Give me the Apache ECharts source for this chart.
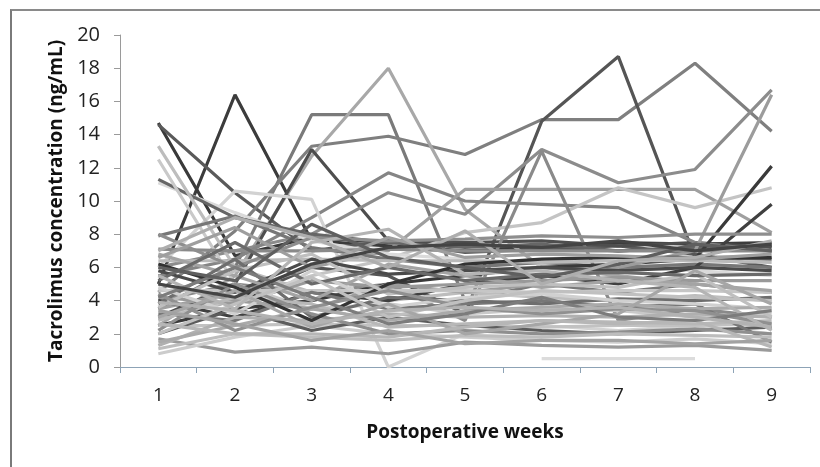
<!DOCTYPE html>
<html>
<head>
<meta charset="utf-8">
<script src="https://cdn.jsdelivr.net/npm/echarts@6/dist/echarts.min.js"></script>
<style>
  html, body { margin: 0; padding: 0; background: #fff; }
  #wrap { position: relative; width: 820px; height: 467px; }
  #frame { position: absolute; left: 10px; top: 9px; right: -4px; bottom: -4px; border-left: 2px solid #7a7a7a; border-top: 2px solid #8a8a8a; }
  #chart { position: absolute; left: 0; top: 0; width: 820px; height: 467px; }
</style>
</head>
<body>
<div id="wrap">
  <div id="frame"></div>
  <div id="chart"></div>
</div>
<script>
// postoperative week labels
var weeks = ['1', '2', '3', '4', '5', '6', '7', '8', '9']

// tacrolimus trough concentration (ng/mL) per patient, week 1..9
var patients = [
  [5.0, 16.4, 7.6, 7.3, 7.0, 7.2, 7.5, 7.4, 7.5],
  [14.7, 6.7, 7.8, 7.5, 7.3, 7.2, 7.0, 7.2, 7.3],
  [14.6, 10.5, 7.0, 7.6, 6.9, 7.1, 7.3, 6.8, 6.0],
  [3.5, 6.0, 15.2, 15.2, 4.0, 5.0, 4.5, 5.0, 4.5],
  [4.5, 8.2, 13.3, 13.9, 12.8, 14.9, 14.9, 18.3, 14.2],
  [3.0, 4.0, 6.0, 5.5, 3.2, 14.8, 18.7, 6.6, 6.5],
  [2.5, 5.5, 12.7, 18.0, 9.5, 6.0, 5.5, 5.0, 4.5],
  [3.0, 5.0, 13.1, 7.6, 7.5, 7.6, 7.3, 7.5, 7.2],
  [6.0, 7.0, 8.0, 10.5, 9.2, 13.1, 11.1, 11.9, 16.7],
  [5.5, 6.5, 9.0, 11.7, 10.0, 9.8, 9.6, 7.5, 7.0],
  [3.5, 4.5, 6.0, 7.0, 10.7, 10.7, 10.7, 10.7, 8.1],
  [3.0, 4.0, 5.5, 6.5, 8.1, 8.7, 10.8, 9.6, 10.8],
  [4.0, 5.0, 4.5, 5.0, 2.8, 13.0, 2.8, 3.5, 3.0],
  [6.0, 10.6, 10.1, 0.0, 2.0, 2.5, 2.2, 2.5, 2.0],
  [11.1, 9.3, 7.6, 6.8, 6.5, 6.2, 6.0, 5.8, 5.5],
  [11.3, 9.0, 8.0, 7.5, 7.2, 7.4, 7.0, 7.2, 7.0],
  [13.3, 6.0, 4.5, 4.0, 4.5, 4.2, 4.0, 4.3, 4.0],
  [12.5, 5.0, 3.5, 3.8, 3.2, 3.5, 3.4, 3.0, 3.2],
  [7.9, 9.1, 7.2, 6.5, 6.0, 6.3, 6.0, 6.2, 6.0],
  [1.7, 0.9, 1.2, 0.8, 1.5, 1.3, 1.2, 1.3, 1.0],
  [0.8, 1.8, 2.5, 2.0, 1.8, 1.6, 1.5, 1.7, 1.4],
  [null, null, null, null, null, 0.5, 0.5, 0.5, null],
  [2.5, 3.5, 4.0, 5.0, 5.5, 6.0, 6.2, 6.5, 12.1],
  [4.0, 3.0, 4.5, 4.0, 5.0, 5.5, 5.0, 6.0, 9.8],
  [5.0, 4.0, 3.5, 5.0, 4.5, 5.0, 6.0, 7.0, 16.4],
  [7.1, 7.0, 7.0, 7.1, 7.0, 7.0, 7.0, 7.0, 7.0],
  [6.4, 6.4, 6.5, 6.4, 6.4, 6.3, 6.4, 6.4, 6.3],
  [4.6, 4.6, 4.6, 4.6, 4.6, 4.5, 4.6, 4.6, 4.5],
  [2.5, 2.5, 2.6, 2.5, 2.5, 2.4, 2.5, 2.5, 2.6],
  [8.0, 6.0, 7.8, 7.6, 7.7, 7.9, 7.8, 8.0, 8.0],
  [2.0, 3.5, 2.2, 3.0, 2.5, 2.2, 2.0, 2.2, 2.4],
  [3.2, 2.8, 4.5, 3.5, 3.8, 4.0, 3.6, 3.8, 1.5],
  [4.2, 3.8, 5.2, 4.8, 5.0, 5.2, 5.4, 5.2, 5.2],
  [5.8, 4.5, 6.5, 5.6, 5.8, 6.0, 5.8, 6.0, 5.8],
  [1.3, 3.0, 2.8, 3.2, 3.0, 3.1, 3.0, 3.2, 3.0],
  [6.8, 5.5, 4.0, 6.2, 5.5, 4.8, 5.2, 5.0, 4.6],
  [3.8, 6.5, 3.0, 4.2, 4.0, 3.8, 4.1, 4.0, 4.2],
  [2.8, 4.2, 3.8, 2.4, 2.6, 2.8, 2.7, 2.6, 2.8],
  [4.8, 3.2, 5.8, 3.6, 4.2, 4.4, 4.0, 3.8, 3.5],
  [2.2, 5.0, 3.2, 2.0, 2.2, 2.0, 2.1, 2.3, 2.0],
  [6.2, 4.8, 2.8, 5.0, 6.2, 6.5, 6.6, 6.6, 6.6],
  [1.5, 2.5, 3.5, 2.8, 3.4, 3.6, 3.8, 3.5, 3.6],
  [3.6, 5.8, 6.8, 4.4, 4.8, 5.0, 4.8, 5.6, 3.0],
  [5.2, 7.5, 5.0, 6.0, 5.2, 5.6, 5.7, 5.5, 5.6],
  [4.4, 2.2, 3.6, 4.6, 3.6, 3.2, 3.5, 3.4, 2.6],
  [2.0, 3.8, 5.4, 3.0, 4.0, 4.6, 4.4, 4.2, 4.0],
  [1.1, 2.0, 1.8, 1.6, 1.9, 1.8, 2.0, 1.9, 1.8],
  [6.6, 8.4, 6.0, 7.8, 6.6, 6.8, 6.7, 6.5, 6.8],
  [3.0, 4.6, 2.4, 3.8, 2.0, 2.6, 3.2, 5.8, 3.8],
  [5.5, 3.5, 7.5, 8.3, 5.6, 5.8, 5.2, 4.8, 2.2],
  [2.6, 2.0, 2.0, 1.8, 2.4, 2.8, 2.6, 2.8, 1.2],
  [4.2, 6.0, 4.2, 2.6, 3.2, 4.2, 3.0, 2.8, 3.4],
  [6.0, 5.2, 8.6, 6.6, 6.0, 5.4, 6.2, 7.4, 7.0],
  [7.0, 9.0, 7.8, 6.0, 8.2, 5.0, 6.4, 6.6, 7.6],
  [3.4, 2.6, 1.6, 2.2, 1.4, 1.6, 1.6, 1.4, 1.6],
  [5.0, 4.2, 6.2, 7.2, 7.4, 7.2, 7.6, 7.0, 7.4],
  [3.9, 3.4, 2.6, 3.4, 3.6, 3.4, 3.6, 3.0, 2.4]
]

// one gray per patient line
var shades = [
  '#3c3c3c', '#3a3a3a', '#5a5a5a', '#7a7a7a', '#7f7f7f', '#555555', '#a8a8a8', '#4e4e4e',
  '#8c8c8c', '#858585', '#a0a0a0', '#c4c4c4', '#8a8a8a', '#d2d2d2', '#dadada', '#666666',
  '#bdbdbd', '#c9c9c9', '#777777', '#9a9a9a', '#cccccc', '#dcdcdc', '#3a3a3a', '#404040',
  '#9c9c9c', '#8a8a8a', '#bababa', '#c6c6c6', '#c2c2c2', '#8e8e8e', '#5c5c5c', '#777777',
  '#999999', '#4a4a4a', '#b0b0b0', '#a4a4a4', '#6e6e6e', '#b8b8b8', '#d0d0d0', '#8f8f8f',
  '#333333', '#aaaaaa', '#bfbfbf', '#6a6a6a', '#909090', '#c0c0c0', '#bdbdbd', '#9e9e9e',
  '#a6a6a6', '#b4b4b4', '#b6b6b6', '#7c7c7c', '#5f5f5f', '#aeaeae', '#a2a2a2', '#444444',
  '#b2b2b2'
]

var chart = echarts.init(document.getElementById('chart'))

var series = patients.map(function (vals, i) {
  return {
    type: 'line',
    data: vals,
    symbol: 'none',
    silent: true,
    lineStyle: { width: 3.2, color: shades[i % shades.length] }
  }
})

chart.setOption({
  animation: false,
  textStyle: { fontFamily: 'Open Sans' },
  grid: { left: 120, right: 10, top: 35, bottom: 100, containLabel: false },
  xAxis: {
    type: 'category',
    data: weeks,
    boundaryGap: true,
    name: 'Postoperative weeks',
    nameLocation: 'middle',
    nameGap: 56,
    nameTextStyle: { fontSize: 19, fontWeight: 'bold', color: '#111', fontFamily: 'Open Sans' },
    axisLine: { lineStyle: { color: '#8da3b6', width: 1 } },
    axisTick: { show: true, length: 6, lineStyle: { color: '#8da3b6' } },
    axisLabel: { fontSize: 19, color: '#222', margin: 19 },
    splitLine: { show: false }
  },
  yAxis: {
    type: 'value',
    min: 0,
    max: 20,
    interval: 2,
    name: 'Tacrolimus concentration (ng/mL)',
    nameLocation: 'middle',
    nameGap: 52,
    nameTextStyle: { fontSize: 19, fontWeight: 'bold', color: '#111', fontFamily: 'Open Sans' },
    axisLine: { show: true, lineStyle: { color: '#9a9a9a', width: 1 } },
    axisTick: { show: true, length: 6, lineStyle: { color: '#9a9a9a' } },
    axisLabel: { fontSize: 20, color: '#222', margin: 20 },
    splitLine: { show: false }
  },
  series: series
})
</script>
</body>
</html>
